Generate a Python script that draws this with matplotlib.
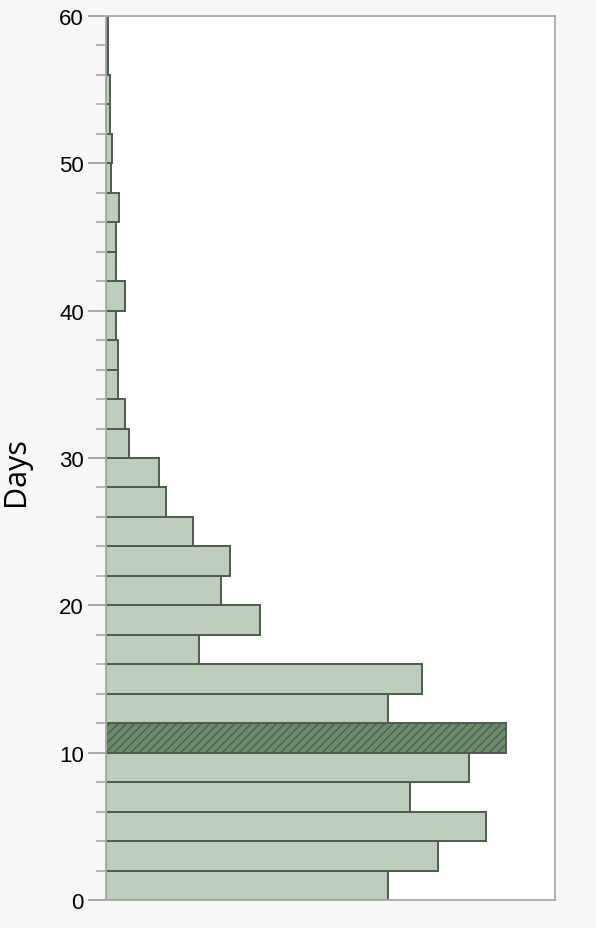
import numpy as np
import matplotlib.pyplot as plt

# 2-day bins from 0 to 60, bar lengths
bin_starts = np.arange(0, 60, 2)
counts = [282, 332, 380, 304, 363, 400, 282, 316, 93, 154,
          115, 124, 87, 60, 53, 23, 19, 12, 12, 10,
          19, 10, 10, 13, 5, 6, 4, 4, 1.5, 1.5]
highlight_bin = 10

fig = plt.figure(figsize=(5.96, 9.29), dpi=100, facecolor='#f7f7f7')
ax = fig.add_axes([106/596, 28/929, 449/596, 884/929])
ax.set_facecolor('white')

colors = ['#6b8a6b' if b == highlight_bin else '#bccdbb' for b in bin_starts]
bars = ax.barh(bin_starts, counts, height=2, align='edge', color=colors,
               edgecolor='#4d5c4d', linewidth=1.4)
plt.rcParams['hatch.color'] = '#4f6b4f'
plt.rcParams['hatch.linewidth'] = 1.2
for b, bar in zip(bin_starts, bars):
    if b == highlight_bin:
        bar.set_hatch('////')

ax.set_xlim(0, 449)
ax.set_ylim(0, 60)
ax.set_xticks([])
ax.set_yticks(np.arange(0, 61, 10))
ax.set_yticks(np.arange(0, 61, 2), minor=True)
ax.tick_params(axis='y', which='major', length=13, width=1.2, color='#999999',
               labelsize=16, pad=3)
ax.tick_params(axis='y', which='minor', length=7, width=1.2, color='#aaaaaa')
for lab in ax.get_yticklabels():
    lab.set_family('Liberation Sans')

for s in ax.spines.values():
    s.set_color('#a8a8a8')
    s.set_linewidth(1.3)

ax.set_ylabel('Days', fontsize=22, family='Open Sans', va='center')
ax.yaxis.set_label_coords(-0.2, 0.486)

fig.savefig('out.png', dpi=100, facecolor=fig.get_facecolor())
